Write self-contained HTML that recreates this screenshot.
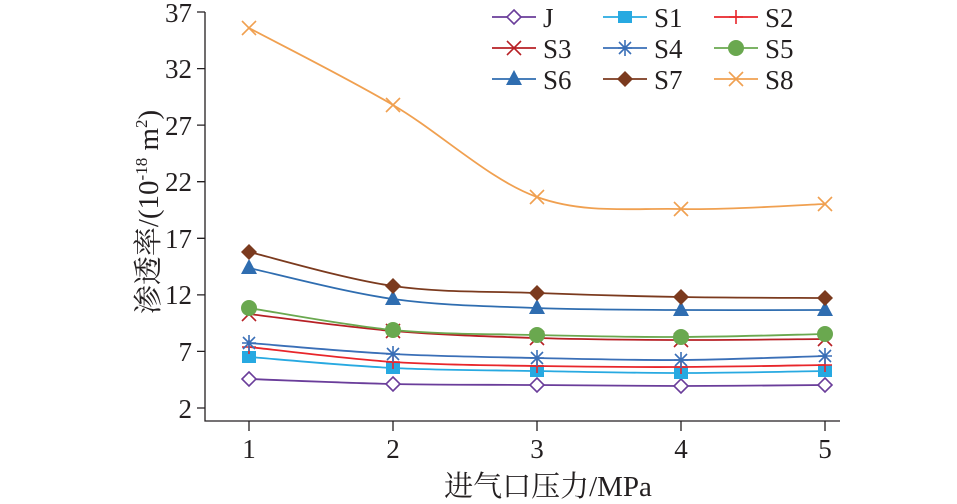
<!DOCTYPE html>
<html><head><meta charset="utf-8"><style>
body{margin:0;background:#fff;}
svg text{font-family:"Liberation Serif","Noto Serif CJK SC",serif;fill:#231f20;}
</style></head><body>
<svg id="s" width="957" height="499" viewBox="0 0 957 499" xmlns="http://www.w3.org/2000/svg">
<g stroke="#231f20" stroke-width="1.3" fill="none">
<path d="M205,12V421H840"/>
<path d="M197,12H205M197,68.6H205M197,125.1H205M197,181.7H205M197,238.3H205M197,294.9H205M197,351.4H205M197,408H205"/>
<path d="M249,421V431M393,421V431M537,421V431M681,421V431M825,421V431"/>
</g>
<g font-size="27" text-anchor="end">
<text x="192" y="22">37</text><text x="192" y="78">32</text><text x="192" y="135">27</text><text x="192" y="191">22</text><text x="192" y="248">17</text><text x="192" y="304">12</text><text x="192" y="361">7</text><text x="192" y="418">2</text>
</g>
<g font-size="27" text-anchor="middle">
<text x="249" y="458">1</text><text x="393" y="458">2</text><text x="537" y="458">3</text><text x="681" y="458">4</text><text x="825" y="458">5</text>
</g>
<text x="548" y="496" font-size="29" text-anchor="middle">进气口压力/MPa</text>
<text transform="translate(158,212) rotate(-90)" font-size="29" text-anchor="middle">渗透率/(10<tspan font-size="17" dy="-11">-18</tspan><tspan dy="11"> m</tspan><tspan font-size="17" dy="-11">2</tspan><tspan dy="11">)</tspan></text>
<g id="series"></g>
<g id="legend" font-size="27"></g>
</svg>
<script>
const X=[249,393,537,681,825];
const S=[
["J","#6a3d9a","diamondO",[379,384,385,386,385]],
["S1","#27a9e1","square",[357,368,371,373,371]],
["S2","#e8262b","plus",[347,362,366,367,365]],
["S3","#b72025","x",[314,331,338,340,339]],
["S4","#3a6fb7","star",[343,354,358,360,356]],
["S5","#6aa84f","circle",[308,330,335,337,334]],
["S6","#2f6db0","tri",[268,299,308,310,310]],
["S7","#7b3a1e","diamond",[252,286,293,297,298]],
["S8","#f0a050","x",[28,105,197,209,204]]];
const ns="http://www.w3.org/2000/svg";
function el(t,a,p){const e=document.createElementNS(ns,t);for(const k in a)e.setAttribute(k,a[k]);p.appendChild(e);return e;}
function marker(p,type,x,y,c){
 const r=7;
 if(type=="diamondO")el("path",{d:`M${x},${y-r}L${x+r},${y}L${x},${y+r}L${x-r},${y}Z`,fill:"#fff",stroke:c,"stroke-width":1.6},p);
 else if(type=="diamond")el("path",{d:`M${x},${y-8}L${x+8},${y}L${x},${y+8}L${x-8},${y}Z`,fill:c},p);
 else if(type=="square")el("rect",{x:x-7,y:y-6,width:14,height:12,fill:c},p);
 else if(type=="circle")el("circle",{cx:x,cy:y,r:8,fill:c},p);
 else if(type=="tri")el("path",{d:`M${x},${y-9}L${x+8},${y+6}L${x-8},${y+6}Z`,fill:c},p);
 else if(type=="plus")el("path",{d:`M${x-7},${y}H${x+7}M${x},${y-7}V${y+7}`,stroke:c,"stroke-width":1.6},p);
 else if(type=="x")el("path",{d:`M${x-7},${y-7}L${x+7},${y+7}M${x+7},${y-7}L${x-7},${y+7}`,stroke:c,"stroke-width":1.6},p);
 else if(type=="star")el("path",{d:`M${x-7},${y}H${x+7}M${x},${y-8}V${y+8}M${x-6},${y-6}L${x+6},${y+6}M${x+6},${y-6}L${x-6},${y+6}`,stroke:c,"stroke-width":1.6},p);
}
const g=document.getElementById("series"),L=document.getElementById("legend");
S.forEach((s,i)=>{
 const Y=s[3];let d=`M${X[0]},${Y[0]}`;
 for(let k=0;k<4;k++){
  const y0=Y[Math.max(k-1,0)],y1=Y[k],y2=Y[k+1],y3=Y[Math.min(k+2,4)];
  const x0=X[Math.max(k-1,0)],x3=X[Math.min(k+2,4)];
  const c1x=X[k]+(X[k+1]-x0)/6,c1y=y1+(y2-y0)/6,c2x=X[k+1]-(x3-X[k])/6,c2y=y2-(y3-y1)/6;
  d+=`C${c1x},${c1y} ${c2x},${c2y} ${X[k+1]},${y2}`;
 }
 el("path",{d,fill:"none",stroke:s[1],"stroke-width":1.8},g);
 X.forEach((x,k)=>marker(g,s[2],x,Y[k],s[1]));
 const col=i%3,row=Math.floor(i/3);
 const lx=[492,603,714][col],ly=17+row*31;
 el("path",{d:`M${lx},${ly}H${lx+44}`,stroke:s[1],"stroke-width":1.8},L);
 marker(L,s[2],lx+22,ly,s[1]);
 const t=el("text",{x:lx+51,y:ly+10},L);t.textContent=s[0];
});
</script>
</body></html>
